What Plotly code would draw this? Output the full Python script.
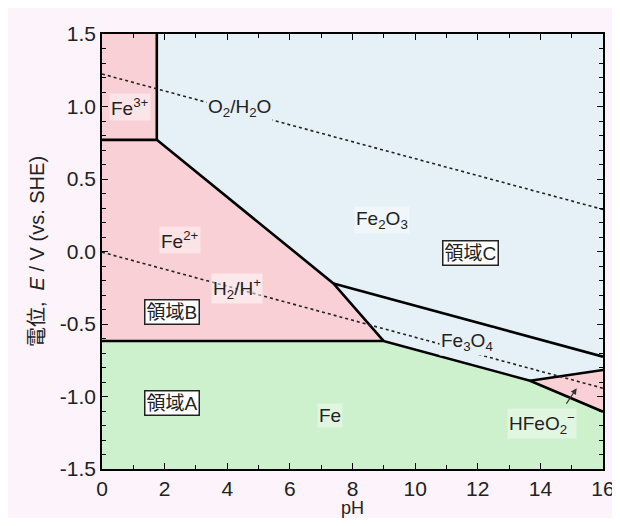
import plotly.graph_objects as go

# ---- data (pH, E / V) ----
fe3_x = [0, 1.75, 1.75, 0]
fe3_y = [0.77, 0.77, 1.5, 1.5]

fe2o3_x = [1.75, 16, 16, 7.39, 1.75]
fe2o3_y = [1.5, 1.5, -0.725, -0.22, 0.77]

fe2_x = [0, 1.75, 7.39, 8.99, 0]
fe2_y = [0.77, 0.77, -0.22, -0.617, -0.617]

fe3o4_x = [7.39, 16, 16, 13.67, 8.99]
fe3o4_y = [-0.22, -0.725, -0.817, -0.891, -0.617]

hfeo2_x = [13.67, 16, 16]
hfeo2_y = [-0.891, -0.817, -1.105]

fe_x = [0, 8.99, 13.67, 16, 16, 0]
fe_y = [-0.617, -0.617, -0.891, -1.105, -1.5, -1.5]

# boundary lines
boundaries = [
    ([1.75, 1.75], [1.5, 0.77]),
    ([0, 1.75, 7.39, 8.99], [0.77, 0.77, -0.22, -0.617]),
    ([0, 8.99, 13.67, 16], [-0.617, -0.617, -0.891, -1.105]),
    ([7.39, 16], [-0.22, -0.725]),
    ([13.67, 16], [-0.891, -0.817]),
]

# water lines
o2_x = [0, 16]
o2_y = [1.224, 0.29]
h2_x = [0, 16]
h2_y = [-0.005, -0.943]

# tick labels
x_tickvals = [0, 2, 4, 6, 8, 10, 12, 14, 16]
x_ticktext = ["0", "2", "4", "6", "8", "10", "12", "14", "16"]
y_tickvals = [-1.5, -1.0, -0.5, 0.0, 0.5, 1.0, 1.5]
y_ticktext = ["-1.5", "-1.0", "-0.5", "0.0", "0.5", "1.0", "1.5"]

PINK = "#f8d0d5"
BLUE = "#e6f0f7"
GREEN = "#cdf1cd"
FONT = "Liberation Sans, Arial, Noto Sans CJK JP"

fig = go.Figure()

def region(x, y, color):
    fig.add_trace(go.Scatter(x=x + [x[0]], y=y + [y[0]], fill="toself", fillcolor=color,
                             mode="lines", line=dict(width=0, color=color),
                             hoverinfo="skip", showlegend=False))

region(fe_x, fe_y, GREEN)
region(fe2_x, fe2_y, PINK)
region(fe3_x, fe3_y, PINK)
region(fe2o3_x, fe2o3_y, BLUE)
region(fe3o4_x, fe3o4_y, BLUE)
region(hfeo2_x, hfeo2_y, PINK)

for bx, by in boundaries:
    fig.add_trace(go.Scatter(x=bx, y=by, mode="lines", line=dict(color="black", width=2.6),
                             hoverinfo="skip", showlegend=False))

for wx, wy in [(o2_x, o2_y), (h2_x, h2_y)]:
    fig.add_trace(go.Scatter(x=wx, y=wy, mode="lines",
                             line=dict(color="#222", width=1.6, dash="dot"),
                             hoverinfo="skip", showlegend=False))

labels = [
    (0.88, 1.0, "Fe<sup>3+</sup>", "rgba(255,255,255,0.45)"),
    (4.4, 0.99, "O<sub>2</sub>/H<sub>2</sub>O", BLUE),
    (2.5, 0.08, "Fe<sup>2+</sup>", "rgba(255,255,255,0.4)"),
    (8.93, 0.217, "Fe<sub>2</sub>O<sub>3</sub>", "rgba(255,255,255,0.4)"),
    (4.3, -0.254, "H<sub>2</sub>/H<sup>+</sup>", "rgba(255,255,255,0.5)"),
    (11.65, -0.622, "Fe<sub>3</sub>O<sub>4</sub>", BLUE),
    (7.28, -1.128, "Fe", "rgba(255,255,255,0.4)"),
    (14.05, -1.185, "HFeO<sub>2</sub><sup>−</sup>", "rgba(255,255,255,0.4)"),
]
for x, y, t, bg in labels:
    fig.add_annotation(x=x, y=y, text=t, showarrow=False, bgcolor=bg,
                       font=dict(size=19, color="#222", family=FONT), borderpad=1)

boxed = [
    (11.76, -0.01, "領域C"),
    (2.24, -0.415, "領域B"),
    (2.24, -1.047, "領域A"),
]
for x, y, t in boxed:
    fig.add_annotation(x=x, y=y, text=t, showarrow=False, bgcolor="white",
                       bordercolor="#222", borderwidth=1.5, borderpad=1,
                       font=dict(size=19, color="#222", family=FONT))

# arrow for HFeO2-
fig.add_annotation(x=15.16, y=-0.943, ax=14.8, ay=-1.06, axref="x", ayref="y",
                   xref="x", yref="y", text="", showarrow=True, arrowhead=2,
                   arrowsize=1, arrowwidth=1.2, arrowcolor="#333")

axis_common = dict(showline=True, linecolor="black", linewidth=1.5, mirror="ticks",
                   ticks="inside", ticklen=6, tickcolor="black", showgrid=False,
                   zeroline=False, automargin=False,
                   tickfont=dict(size=21, color="#222", family=FONT))

fig.update_xaxes(range=[0, 16], tickmode="array", tickvals=x_tickvals, ticktext=x_ticktext,
                 minor=dict(dtick=1, tick0=0, ticks="inside", ticklen=4, tickcolor="black"),
                 title=dict(text="pH", font=dict(size=18, color="#222", family=FONT), standoff=8),
                 **axis_common)
fig.update_yaxes(range=[-1.5, 1.5], tickmode="array", tickvals=y_tickvals, ticktext=y_ticktext,
                 minor=dict(dtick=0.1, tick0=0, ticks="inside", ticklen=4, tickcolor="black"),
                 title=dict(text="電位,  <i>E</i> / V (vs. SHE)",
                            font=dict(size=20, color="#222", family=FONT), standoff=10),
                 **axis_common)

fig.update_layout(width=608, height=510, margin=dict(l=94, r=13, t=26, b=49),
                  paper_bgcolor="#fcf4fa", plot_bgcolor="white",
                  font=dict(family=FONT), showlegend=False)

fig.write_html("out.html")
